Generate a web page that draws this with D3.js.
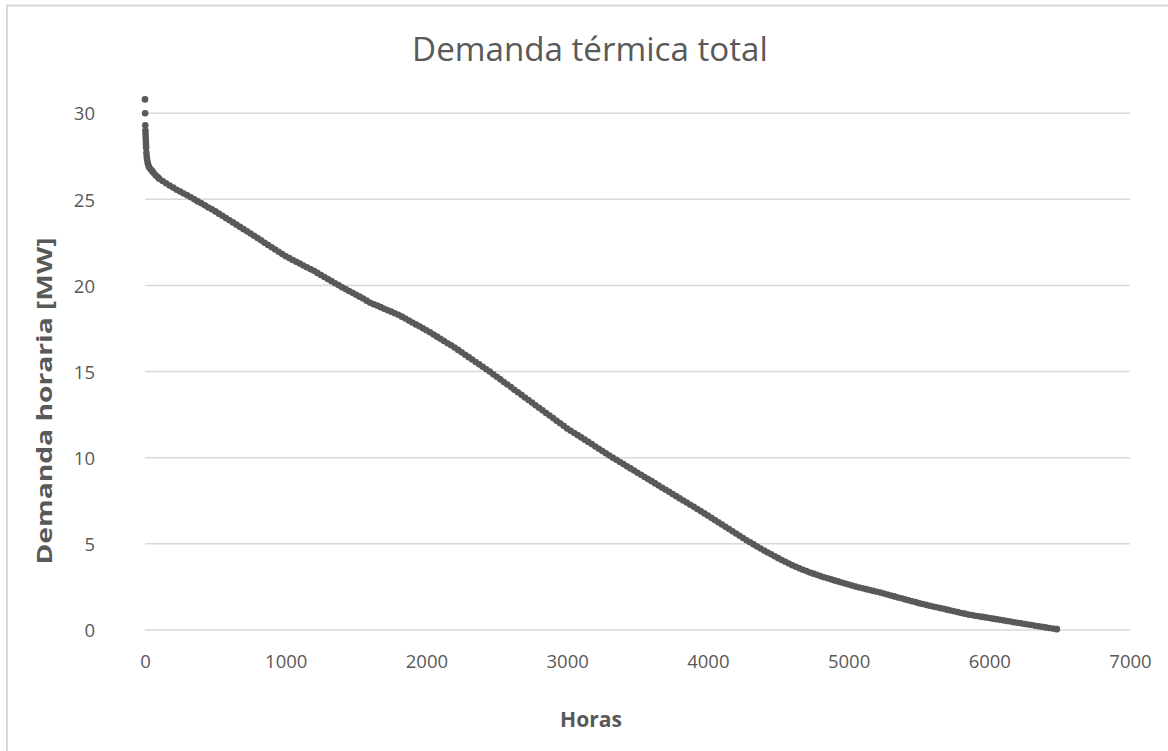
<!DOCTYPE html>
<html><head><meta charset="utf-8">
<script src="https://cdn.jsdelivr.net/npm/d3@7"></script>
<style>body{margin:0;background:#fff;}svg{display:block;}</style>
</head><body>
<svg id="c" width="1168" height="751"></svg>
<script>
const title = "Demanda térmica total";
const xLabel = "Horas";
const yLabel = "Demanda horaria [MW]";
const xTicks = [0, 1000, 2000, 3000, 4000, 5000, 6000, 7000];
const yTicks = [0, 5, 10, 15, 20, 25, 30];

// early (steep) hours, then regularly sampled hours every 25 h, then the last hour
const earlyHours = [0, 1, 2, 3, 4, 5, 6, 7, 8, 10, 12, 15, 20, 25, 30, 40, 50, 60, 75, 90];
const earlyDemand = [30.8, 30.0, 29.3, 29.0, 28.8, 28.6, 28.4, 28.2, 28.0, 27.7, 27.5, 27.3, 27.1, 26.95, 26.85, 26.75, 26.65, 26.55, 26.4, 26.3];
const sampledHours = d3.range(100, 6476, 25).concat([6480]);
const sampledDemand = [
 26.2, 26.06, 25.93, 25.8, 25.68, 25.56, 25.45, 25.34, 25.23, 25.12, 25.0,
 24.88, 24.77, 24.65, 24.53, 24.42, 24.3,
 24.17, 24.04, 23.91, 23.79, 23.66, 23.53, 23.4,
 23.27, 23.14, 23.01, 22.88, 22.75, 22.62, 22.48, 22.35, 22.22, 22.09, 21.96, 21.83, 21.7,
 21.59, 21.48, 21.37, 21.27, 21.16, 21.06, 20.95, 20.85,
 20.73, 20.61, 20.49, 20.37, 20.25, 20.13, 20.02, 19.9,
 19.79, 19.68, 19.57, 19.46, 19.35, 19.24, 19.12, 19.0,
 18.91, 18.83, 18.74, 18.65, 18.56, 18.48, 18.39, 18.3,
 18.19, 18.08, 17.96, 17.85, 17.74, 17.63, 17.51, 17.4,
 17.28, 17.15, 17.03, 16.9, 16.78, 16.65, 16.53, 16.4,
 16.26, 16.12, 15.98, 15.84, 15.7, 15.56, 15.42, 15.28, 15.14, 15.0,
 14.85, 14.7, 14.55, 14.4, 14.25, 14.1, 13.95, 13.8, 13.65, 13.5, 13.35, 13.2, 13.05, 12.9, 12.75, 12.6, 12.45, 12.3, 12.15, 12.0, 11.85, 11.7,
 11.57, 11.44, 11.31, 11.18, 11.05, 10.92, 10.79, 10.65, 10.52, 10.39, 10.26, 10.13, 10.0,
 9.88, 9.75, 9.63, 9.5, 9.38, 9.26, 9.13, 9.01, 8.88, 8.76, 8.64, 8.51, 8.39, 8.26, 8.14, 8.02, 7.89, 7.77, 7.64, 7.52, 7.4, 7.27, 7.15, 7.02, 6.9,
 6.77, 6.64, 6.51, 6.38, 6.25, 6.12, 5.99, 5.86, 5.73, 5.6, 5.47, 5.34, 5.21, 5.09,
 4.97, 4.85, 4.73, 4.61, 4.5, 4.39, 4.28, 4.17, 4.06, 3.96, 3.86, 3.76, 3.67, 3.58,
 3.5, 3.42, 3.34, 3.27, 3.2, 3.13, 3.06, 3.0, 2.94, 2.88,
 2.82, 2.76, 2.7, 2.64,
 2.58, 2.52, 2.47, 2.42, 2.37, 2.32, 2.27, 2.22, 2.17, 2.12,
 2.06, 2.0, 1.95, 1.89, 1.84, 1.78, 1.73, 1.67, 1.62, 1.56,
 1.51, 1.46, 1.41, 1.36, 1.32, 1.27, 1.23, 1.18, 1.13, 1.09, 1.04, 0.99, 0.95, 0.9,
 0.87, 0.83, 0.8, 0.76, 0.73, 0.7, 0.66, 0.63, 0.59, 0.56, 0.52, 0.49, 0.45, 0.42,
 0.39, 0.35, 0.32, 0.29, 0.25, 0.22, 0.19, 0.15, 0.12, 0.09, 0.06, 0.05
];

const hours = earlyHours.concat(sampledHours);
const demand = earlyDemand.concat(sampledDemand);
const points = hours.map((h, i) => ({h, v: demand[i]})).filter(d => d.v !== undefined);

const svg = d3.select("#c");
const font = "'Open Sans', 'Noto Sans', sans-serif";
const txt = "#595959";
const grid = "#d9d9d9";

// chart frame
svg.append("rect").attr("x", 7).attr("y", 5.5).attr("width", 1200).attr("height", 800)
  .attr("fill", "none").attr("stroke", grid).attr("stroke-width", 2);

const x = d3.scaleLinear().domain([0, 7000]).range([145, 1130]);
const y = d3.scaleLinear().domain([0, 30]).range([630, 113.2]);

// gridlines
svg.append("g").selectAll("line").data(yTicks).join("line")
  .attr("x1", x(0)).attr("x2", x(7000))
  .attr("y1", d => y(d)).attr("y2", d => y(d))
  .attr("stroke", grid).attr("stroke-width", 1.5);

// y axis labels
const yAxis = d3.axisLeft(y).tickValues(yTicks).tickSize(0).tickPadding(0).tickFormat(d3.format("d"));
const gy = svg.append("g").attr("transform", "translate(95,0)").call(yAxis);
gy.select(".domain").remove();
gy.selectAll("text").attr("font-family", font).attr("font-size", 18.5).attr("fill", txt).attr("dy", "0.36em");

// x axis labels
const xAxis = d3.axisBottom(x).tickValues(xTicks).tickSize(0).tickPadding(0).tickFormat(d3.format("d"));
const gx = svg.append("g").attr("transform", "translate(0,655)").call(xAxis);
gx.select(".domain").remove();
gx.selectAll("text").attr("font-family", font).attr("font-size", 18.5).attr("fill", txt).attr("dy", "0.71em");

// points
svg.append("g").selectAll("circle").data(points).join("circle")
  .attr("cx", d => x(d.h)).attr("cy", d => y(d.v)).attr("r", 3.3)
  .attr("fill", "#595959");

// title and axis titles
function fitText(sel, targetW) {
  const w = sel.node().getComputedTextLength();
  const fs = parseFloat(sel.attr("font-size"));
  sel.attr("font-size", fs * targetW / w);
}
const t = svg.append("text").attr("x", 590).attr("y", 61).attr("text-anchor", "middle")
  .attr("font-family", font).attr("font-size", 26).attr("fill", txt).text(title);
fitText(t, 356);

const xl = svg.append("text").attr("x", 591).attr("y", 727).attr("text-anchor", "middle")
  .attr("font-family", font).attr("font-size", 20).attr("font-weight", "bold").attr("fill", txt).text(xLabel);
fitText(xl, 62);

svg.append("text").attr("transform", "translate(52,401) rotate(-90)").attr("text-anchor", "middle")
  .attr("font-family", font).attr("font-size", 21).attr("font-weight", "bold").attr("fill", txt)
  .attr("textLength", 327).attr("lengthAdjust", "spacingAndGlyphs").text(yLabel);
</script>
</body></html>
